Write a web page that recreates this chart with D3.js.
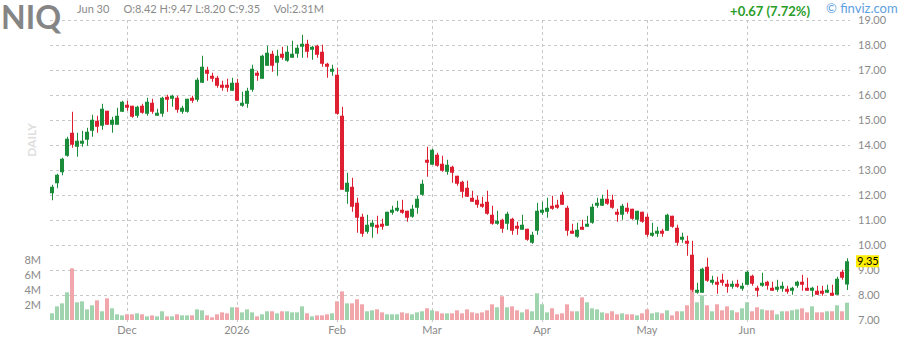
<!DOCTYPE html>
<html>
<head>
<meta charset="utf-8">
<script src="https://cdn.jsdelivr.net/npm/d3@7"></script>
<style>
  body { margin: 0; background: #fff; }
  svg { display: block; font-family: Lato, "Open Sans", sans-serif; }
</style>
</head>
<body>
<div id="chart"></div>
<script>
// daily candles, Nov 7 2025 -> Jun 30 2026 (one per trading day)
const opens = [12.07,12.47,12.91,13.57,14.49,13.93,14.05,14.21,14.57,14.97,14.77,15.37,14.81,14.81,15.33,15.61,15.57,15.17,15.57,15.25,
  15.69,15.17,15.25,15.93,15.85,15.89,15.33,15.33,15.89,15.81,16.49,17.01,16.77,16.69,16.41,16.41,16.17,16.49,15.57,15.65,
  16.21,16.89,16.65,17.17,17.65,17.29,17.65,17.37,17.49,17.65,17.93,18.05,17.81,17.97,17.73,17.25,16.93,16.81,15.17,12.13,
  12.33,11.69,11.13,10.53,10.73,10.81,10.85,10.77,11.29,11.37,11.41,11.37,11.13,11.49,12.01,13.41,13.21,13.61,13.25,12.93,
  13.13,12.77,12.53,12.29,11.89,11.81,11.65,11.73,11.21,10.85,11.01,10.85,11.05,10.77,10.61,10.65,10.09,10.57,11.29,11.33,
  11.57,11.61,12.01,11.49,10.57,10.33,10.73,10.73,10.89,11.57,11.57,11.85,11.81,11.33,11.21,11.49,11.45,11.01,11.33,11.13,
  10.37,10.45,10.57,10.57,11.17,10.69,10.21,10.17,9.61,8.09,8.09,9.13,8.49,8.53,8.61,8.45,8.33,8.45,8.25,8.41,
  8.77,8.29,8.37,8.53,8.29,8.21,8.25,8.25,8.17,8.37,8.53,8.29,8.17,8.17,8.17,8.09,8.09,8.01,8.93,8.42];
const highs = [12.41,12.85,13.49,14.33,15.33,14.49,14.57,14.69,15.21,15.17,15.65,15.37,15.13,15.49,15.77,15.77,15.57,15.57,15.65,15.89,
  15.85,15.45,15.93,16.01,16.01,15.97,15.57,15.85,15.97,16.69,17.57,17.13,16.89,16.77,16.57,16.65,16.69,16.65,16.13,16.29,
  17.21,16.97,17.61,17.97,17.77,17.81,17.93,17.97,18.17,18.01,18.41,18.21,17.97,18.01,18.01,17.29,17.21,17.09,15.53,12.89,
  12.69,11.89,11.25,11.21,11.01,11.17,11.05,11.33,11.57,11.77,11.81,11.37,11.61,11.97,12.61,13.93,13.85,13.69,13.57,13.41,
  13.17,12.77,12.57,12.57,12.17,11.97,11.93,12.17,11.57,11.37,11.05,11.33,11.09,10.93,11.21,10.65,10.53,11.69,11.73,11.89,
  11.97,11.81,12.13,11.57,10.85,10.89,11.01,11.17,11.65,11.89,12.01,12.21,12.01,11.45,11.65,11.69,11.45,11.37,11.33,11.25,
  10.89,10.73,10.65,11.25,11.17,10.81,10.49,10.37,10.17,8.49,9.09,9.49,8.77,8.73,8.85,8.61,8.57,8.61,8.49,8.97,
  8.81,8.37,8.89,8.57,8.53,8.61,8.53,8.37,8.33,8.57,8.81,8.69,8.33,8.37,8.37,8.41,8.41,8.73,9.01,9.47];
const lows = [11.79,12.27,12.79,13.53,13.89,13.53,13.93,13.97,14.33,14.49,14.61,14.81,14.49,14.81,15.33,15.37,15.09,15.09,15.25,15.17,
  15.25,15.17,15.13,15.33,15.53,15.29,15.25,15.29,15.69,15.73,16.49,16.57,16.53,16.29,16.17,16.13,16.17,15.77,15.53,15.49,
  16.13,16.57,16.65,17.17,16.93,16.77,17.41,17.33,17.49,17.49,17.49,17.49,17.41,17.49,17.13,16.69,16.77,15.21,12.21,11.65,
  11.33,10.49,10.33,10.45,10.29,10.45,10.61,10.77,11.21,11.33,11.25,10.93,11.09,11.25,11.97,12.73,13.21,13.13,12.93,12.81,
  12.49,12.37,11.89,11.93,11.73,11.49,11.49,11.21,10.81,10.81,10.49,10.61,10.41,10.41,10.61,10.17,10.05,10.41,11.21,11.09,
  11.41,11.45,11.61,10.37,10.45,10.29,10.61,10.73,10.85,11.49,11.57,11.61,11.45,10.93,11.01,11.25,11.01,10.81,10.89,10.33,
  10.33,10.33,10.33,10.57,10.69,9.97,10.09,9.57,8.13,8.05,8.09,8.53,8.41,8.05,8.37,8.09,8.25,8.29,8.17,8.41,
  8.37,7.93,8.33,8.21,8.17,8.13,8.13,8.05,8.01,8.29,8.17,8.17,7.93,8.01,7.97,8.09,7.97,8.01,8.61,8.20];
const closes = [12.33,12.81,13.45,14.25,14.01,14.17,14.17,14.53,15.01,14.73,15.45,14.81,15.01,15.17,15.73,15.49,15.13,15.53,15.29,15.73,
  15.33,15.29,15.89,15.81,15.97,15.41,15.49,15.85,15.77,16.61,17.13,16.85,16.65,16.37,16.29,16.29,16.49,15.77,15.69,16.17,
  17.05,16.77,17.57,17.69,17.17,17.57,17.49,17.73,17.65,17.89,18.05,17.73,17.93,17.61,17.25,17.13,17.05,15.25,12.21,12.49,
  11.53,11.09,10.45,10.81,10.89,10.69,10.73,11.33,11.41,11.49,11.29,11.09,11.45,11.85,12.45,13.29,13.81,13.17,12.97,13.21,
  12.89,12.45,12.13,11.93,11.73,11.61,11.53,11.25,10.85,10.97,10.65,11.25,10.57,10.65,10.81,10.21,10.41,11.37,11.41,11.49,
  11.45,11.49,11.61,10.57,10.45,10.61,10.61,10.85,11.53,11.69,11.85,11.65,11.49,11.21,11.57,11.33,11.05,11.37,10.93,10.41,
  10.49,10.57,10.45,11.21,10.73,10.09,10.33,10.05,8.21,8.21,9.05,8.57,8.61,8.41,8.49,8.33,8.45,8.33,8.37,8.93,
  8.45,8.17,8.49,8.37,8.17,8.33,8.37,8.13,8.29,8.53,8.41,8.17,8.29,8.01,8.05,8.21,7.97,8.65,8.69,9.35];
// volume in millions
const volumes = [0.89,1.82,2.22,3.69,6.89,2.36,2.49,1.42,1.96,2.62,1.16,2.89,1.56,0.76,0.62,0.76,0.76,0.89,0.76,0.49,
  0.62,0.49,1.16,0.49,0.49,0.76,0.62,0.62,0.62,1.42,1.29,0.62,0.36,0.76,1.02,0.89,1.69,1.69,1.02,1.42,
  1.02,0.49,0.76,1.16,1.16,0.89,1.16,1.16,1.02,1.02,1.82,0.89,0.49,0.62,0.62,0.76,0.89,2.49,3.82,2.22,
  2.22,2.76,2.09,1.16,1.29,1.42,1.02,0.76,0.76,0.76,1.02,0.89,0.76,1.02,1.16,1.56,1.29,1.16,0.89,0.89,
  0.89,1.29,0.89,1.42,1.02,0.89,1.02,1.29,2.09,1.69,3.16,1.69,1.82,1.29,1.02,1.42,1.16,3.56,2.09,1.02,
  1.56,0.76,0.89,2.09,1.16,1.16,3.02,2.36,1.56,1.42,1.02,0.89,1.16,0.76,0.89,0.76,0.76,0.62,0.89,1.42,
  0.89,1.02,0.89,1.29,0.62,1.16,1.16,1.96,4.09,2.36,3.29,1.96,1.16,2.09,1.29,1.82,1.29,1.02,1.56,2.36,
  1.16,1.69,1.42,1.29,1.29,0.76,1.16,1.16,1.29,1.42,1.56,1.02,1.82,1.02,1.02,1.16,1.16,1.96,1.16,2.31];

// month starts (candle index) and their labels
const monthIdx = [15, 37, 57, 76, 98, 119, 139];
const monthLabels = ["Dec", "2026", "Feb", "Mar", "Apr", "May", "Jun"];
const priceTicks = [7, 8, 9, 10, 11, 12, 13, 14, 15, 16, 17, 18, 19];
const volTicks = [2, 4, 6, 8];

const width = 900, height = 340;
const upColor = "#1b8c3a", downColor = "#dd1f31";
const upVol = "#9fd4ae", downVol = "#f1a6ac";
const gridColor = "#c8c8c8";

const svg = d3.select("#chart").append("svg")
  .attr("width", width).attr("height", height);

const x = d3.scaleLinear().domain([0, opens.length - 1]).range([52, 847]);
const y = d3.scaleLinear().domain([7, 19]).range([320, 20]);
const yVol = d3.scaleLinear().domain([0, 8]).range([320, 260]);

// DAILY watermark
svg.append("text")
  .attr("transform", "translate(36,140) rotate(-90)")
  .attr("text-anchor", "middle")
  .attr("font-size", 12).attr("font-weight", "bold")
  .attr("fill", "#dedede")
  .text("DAILY");

// horizontal grid
svg.append("g").selectAll("line")
  .data(priceTicks.filter(d => d > 7))
  .enter().append("line")
  .attr("x1", 50).attr("x2", 850)
  .attr("y1", d => Math.round(y(d)) + 0.5).attr("y2", d => Math.round(y(d)) + 0.5)
  .attr("stroke", gridColor).attr("stroke-dasharray", "3,3");

// vertical grid at month starts
svg.append("g").selectAll("line")
  .data(monthIdx)
  .enter().append("line")
  .attr("x1", d => x(d) + 0.5).attr("x2", d => x(d) + 0.5)
  .attr("y1", 20).attr("y2", 322)
  .attr("stroke", gridColor).attr("stroke-dasharray", "3,3");

// volume bars
svg.append("g").selectAll("rect")
  .data(volumes)
  .enter().append("rect")
  .attr("x", (d, i) => x(i) - 2)
  .attr("width", 4)
  .attr("y", d => yVol(d))
  .attr("height", d => yVol(0) - yVol(d))
  .attr("fill", (d, i) => closes[i] >= opens[i] ? upVol : downVol);

// candles
const candles = svg.append("g").selectAll("g")
  .data(opens)
  .enter().append("g");

candles.append("rect")
  .attr("x", (d, i) => x(i))
  .attr("width", 1)
  .attr("y", (d, i) => y(highs[i]))
  .attr("height", (d, i) => Math.max(1, y(lows[i]) - y(highs[i])))
  .attr("fill", (d, i) => closes[i] >= opens[i] ? upColor : downColor);

candles.append("rect")
  .attr("x", (d, i) => x(i) - 2)
  .attr("width", 4)
  .attr("y", (d, i) => y(Math.max(opens[i], closes[i])))
  .attr("height", (d, i) => Math.max(1, Math.abs(y(opens[i]) - y(closes[i]))))
  .attr("fill", (d, i) => closes[i] >= opens[i] ? upColor : downColor);

// price axis (right)
const priceAxis = svg.append("g");
priceAxis.selectAll("text")
  .data(priceTicks)
  .enter().append("text")
  .attr("x", 858)
  .attr("y", d => y(d) + 4)
  .attr("font-size", 11)
  .attr("fill", "#8a8a8a")
  .text(d => d.toFixed(2));

// last price marker
const last = closes[closes.length - 1];
svg.append("rect")
  .attr("x", 856).attr("y", y(last) - 6)
  .attr("width", 23).attr("height", 12)
  .attr("fill", "#ffee00");
svg.append("text")
  .attr("x", 857).attr("y", y(last) + 4)
  .attr("font-size", 11).attr("fill", "#000")
  .text(last.toFixed(2));

// volume axis (left)
svg.append("g").selectAll("text")
  .data(volTicks)
  .enter().append("text")
  .attr("x", 41)
  .attr("y", d => yVol(d) + 4)
  .attr("text-anchor", "end")
  .attr("font-size", 11)
  .attr("fill", "#8a8a8a")
  .text(d => d + "M");

// month labels
svg.append("g").selectAll("text")
  .data(monthIdx)
  .enter().append("text")
  .attr("x", (d, i) => x(d))
  .attr("y", 334)
  .attr("text-anchor", "middle")
  .attr("font-size", 11)
  .attr("fill", "#8a8a8a")
  .text((d, i) => monthLabels[i]);

// header
svg.append("text")
  .attr("x", 1).attr("y", 29)
  .attr("font-size", 32).attr("font-weight", "bold")
  .attr("fill", "#858585")
  .text("NIQ");

const n = opens.length - 1;
svg.append("text")
  .attr("x", 77).attr("y", 13)
  .attr("font-size", 11).attr("fill", "#8a8a8a")
  .attr("xml:space", "preserve")
  .text("Jun 30     O:" + opens[n].toFixed(2) + " H:" + highs[n].toFixed(2) +
        " L:" + lows[n].toFixed(2) + " C:" + closes[n].toFixed(2) +
        "     Vol:" + volumes[n].toFixed(2) + "M");

svg.append("text")
  .attr("x", 810).attr("y", 16)
  .attr("text-anchor", "end")
  .attr("font-size", 13).attr("font-weight", "bold")
  .attr("fill", "#2a9d2a")
  .text("+0.67 (7.72%)");

svg.append("text")
  .attr("x", 826).attr("y", 13)
  .attr("font-size", 13)
  .attr("fill", "#5d9fe0")
  .text("© finviz.com");
</script>
</body>
</html>
